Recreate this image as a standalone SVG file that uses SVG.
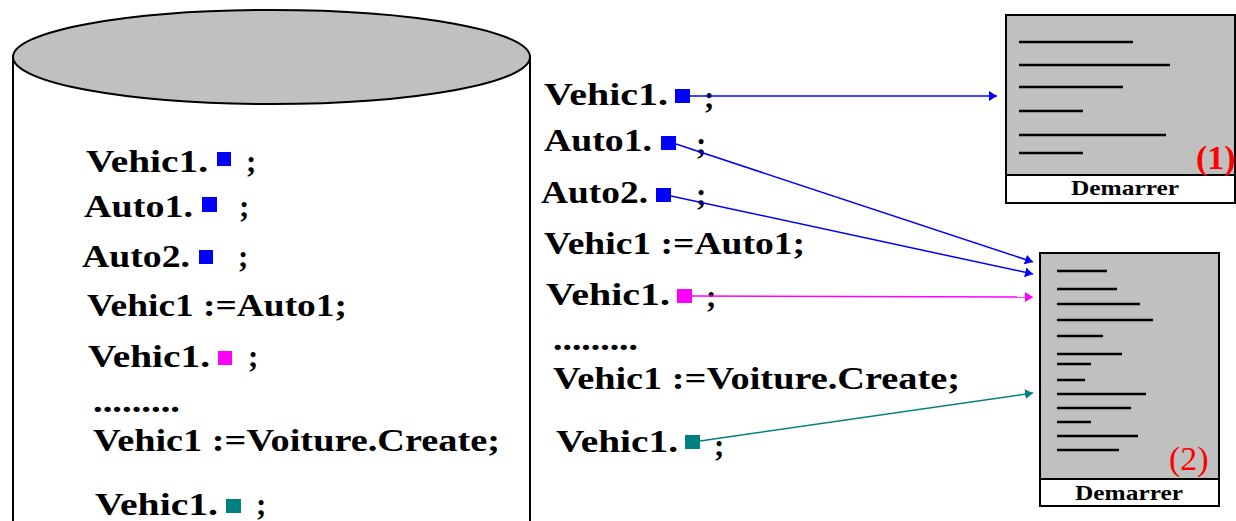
<svg xmlns="http://www.w3.org/2000/svg" width="1236" height="521" viewBox="0 0 1236 521">
<defs>
<style>
.t{font-family:"Liberation Serif","Times New Roman",serif;font-weight:bold;font-size:31px;fill:#000}
.lbl{font-family:"Liberation Serif","Times New Roman",serif;font-weight:bold;font-size:21px;fill:#000}
.num{font-family:"Liberation Serif","Times New Roman",serif;font-size:34px;fill:#ff0000}
.ln{stroke:#000;stroke-width:2.5}
.box{stroke:#000;stroke-width:2}
.b{fill:#0000ff}.m{fill:#ff00ff}.g{fill:#008080}
.cb{stroke:#0000ff;stroke-width:1.5;fill:none;marker-end:url(#ab)}
.cm{stroke:#ff00ff;stroke-width:1.5;fill:none;marker-end:url(#am)}
.cg{stroke:#008080;stroke-width:1.5;fill:none;marker-end:url(#ag)}
</style>
<marker id="ab" markerWidth="10" markerHeight="12" refX="8" refY="6" orient="auto" markerUnits="userSpaceOnUse"><path d="M0,1 L8,6 L0,11 z" fill="#0000ff"/></marker>
<marker id="am" markerWidth="10" markerHeight="12" refX="8" refY="6" orient="auto" markerUnits="userSpaceOnUse"><path d="M0,1 L8,6 L0,11 z" fill="#ff00ff"/></marker>
<marker id="ag" markerWidth="10" markerHeight="12" refX="8" refY="6" orient="auto" markerUnits="userSpaceOnUse"><path d="M0,1 L8,6 L0,11 z" fill="#008080"/></marker>
</defs>
<rect width="1236" height="521" fill="#fff"/>

<g id="cylinder">
<line x1="13" y1="57" x2="13" y2="521" stroke="#000" stroke-width="2"/>
<line x1="530" y1="57" x2="530" y2="521" stroke="#000" stroke-width="2"/>
<ellipse cx="271.5" cy="57" rx="258.5" ry="47" fill="#c0c0c0" stroke="#000" stroke-width="2"/>
</g>

<g id="left-code">
<text class="t" x="86" y="172" textLength="122" lengthAdjust="spacingAndGlyphs">Vehic1.</text>
<rect class="b" x="217" y="152" width="14" height="14"/>
<text class="t" x="246" y="172">;</text>
<text class="t" x="84" y="217" textLength="109" lengthAdjust="spacingAndGlyphs">Auto1.</text>
<rect class="b" x="202" y="197" width="15" height="15"/>
<text class="t" x="239" y="217">;</text>
<text class="t" x="82" y="267" textLength="108" lengthAdjust="spacingAndGlyphs">Auto2.</text>
<rect class="b" x="199" y="250" width="14" height="14"/>
<text class="t" x="238" y="267">;</text>
<text class="t" x="87" y="316" textLength="260" lengthAdjust="spacingAndGlyphs">Vehic1 :=Auto1;</text>
<text class="t" x="88" y="367" textLength="122" lengthAdjust="spacingAndGlyphs">Vehic1.</text>
<rect class="m" x="218" y="351" width="14" height="14"/>
<text class="t" x="248" y="367">;</text>
<text class="t" x="93" y="412" textLength="87" lengthAdjust="spacingAndGlyphs">.........</text>
<text class="t" x="93" y="451" textLength="407" lengthAdjust="spacingAndGlyphs">Vehic1 :=Voiture.Create;</text>
<text class="t" x="95" y="515" textLength="123" lengthAdjust="spacingAndGlyphs">Vehic1.</text>
<rect class="g" x="226" y="499" width="15" height="14"/>
<text class="t" x="256" y="515">;</text>
</g>

<g id="right-code">
<text class="t" x="544" y="105" textLength="124" lengthAdjust="spacingAndGlyphs">Vehic1.</text>
<rect class="b" x="675" y="89" width="15" height="14"/>
<text class="t" x="704" y="108">;</text>
<text class="t" x="544" y="151" textLength="108" lengthAdjust="spacingAndGlyphs">Auto1.</text>
<rect class="b" x="661" y="136" width="15" height="14"/>
<text class="t" x="696" y="154">;</text>
<text class="t" x="541" y="203" textLength="107" lengthAdjust="spacingAndGlyphs">Auto2.</text>
<rect class="b" x="656" y="188" width="15" height="14"/>
<text class="t" x="696" y="205">;</text>
<text class="t" x="544" y="254" textLength="261" lengthAdjust="spacingAndGlyphs">Vehic1 :=Auto1;</text>
<text class="t" x="546" y="305" textLength="124" lengthAdjust="spacingAndGlyphs">Vehic1.</text>
<rect class="m" x="677" y="289" width="15" height="14"/>
<text class="t" x="706" y="307">;</text>
<text class="t" x="553" y="350" textLength="85" lengthAdjust="spacingAndGlyphs">.........</text>
<text class="t" x="553" y="389" textLength="407" lengthAdjust="spacingAndGlyphs">Vehic1 :=Voiture.Create;</text>
<text class="t" x="556" y="452" textLength="122" lengthAdjust="spacingAndGlyphs">Vehic1.</text>
<rect class="g" x="685" y="435" width="15" height="14"/>
<text class="t" x="714" y="456">;</text>
</g>

<g id="window1">
<rect class="box" x="1006" y="15" width="229" height="188" fill="#c0c0c0"/>
<rect class="box" x="1006" y="175" width="229" height="28" fill="#fff"/>
<line class="ln" x1="1019" y1="42" x2="1133" y2="42"/>
<line class="ln" x1="1019" y1="65" x2="1170" y2="65"/>
<line class="ln" x1="1019" y1="87" x2="1123" y2="87"/>
<line class="ln" x1="1019" y1="111" x2="1083" y2="111"/>
<line class="ln" x1="1019" y1="135" x2="1166" y2="135"/>
<line class="ln" x1="1019" y1="153" x2="1083" y2="153"/>
<text class="num" x="1196" y="169" font-weight="bold">(1)</text>
<text class="lbl" x="1071" y="195" textLength="108" lengthAdjust="spacingAndGlyphs">Demarrer</text>
</g>

<g id="window2">
<rect class="box" x="1040" y="253" width="179" height="253" fill="#c0c0c0"/>
<rect class="box" x="1040" y="479" width="179" height="27" fill="#fff"/>
<line class="ln" x1="1057" y1="271" x2="1107" y2="271"/>
<line class="ln" x1="1057" y1="289" x2="1117" y2="289"/>
<line class="ln" x1="1057" y1="304" x2="1140" y2="304"/>
<line class="ln" x1="1057" y1="320" x2="1153" y2="320"/>
<line class="ln" x1="1057" y1="336" x2="1103" y2="336"/>
<line class="ln" x1="1057" y1="354" x2="1122" y2="354"/>
<line class="ln" x1="1057" y1="364" x2="1091" y2="364"/>
<line class="ln" x1="1057" y1="380" x2="1085" y2="380"/>
<line class="ln" x1="1057" y1="394" x2="1146" y2="394"/>
<line class="ln" x1="1057" y1="408" x2="1131" y2="408"/>
<line class="ln" x1="1057" y1="422" x2="1091" y2="422"/>
<line class="ln" x1="1057" y1="436" x2="1138" y2="436"/>
<line class="ln" x1="1057" y1="450" x2="1119" y2="450"/>
<text class="num" x="1169" y="470">(2)</text>
<text class="lbl" x="1075" y="500" textLength="108" lengthAdjust="spacingAndGlyphs">Demarrer</text>
</g>

<g id="connectors">
<line class="cb" x1="690" y1="96" x2="997" y2="96"/>
<line class="cb" x1="676" y1="144" x2="1033" y2="262"/>
<line class="cb" x1="671" y1="196" x2="1033" y2="274"/>
<line class="cm" x1="692" y1="296" x2="1033" y2="297"/>
<line class="cg" x1="700" y1="441" x2="1033" y2="393"/>
</g>
</svg>
